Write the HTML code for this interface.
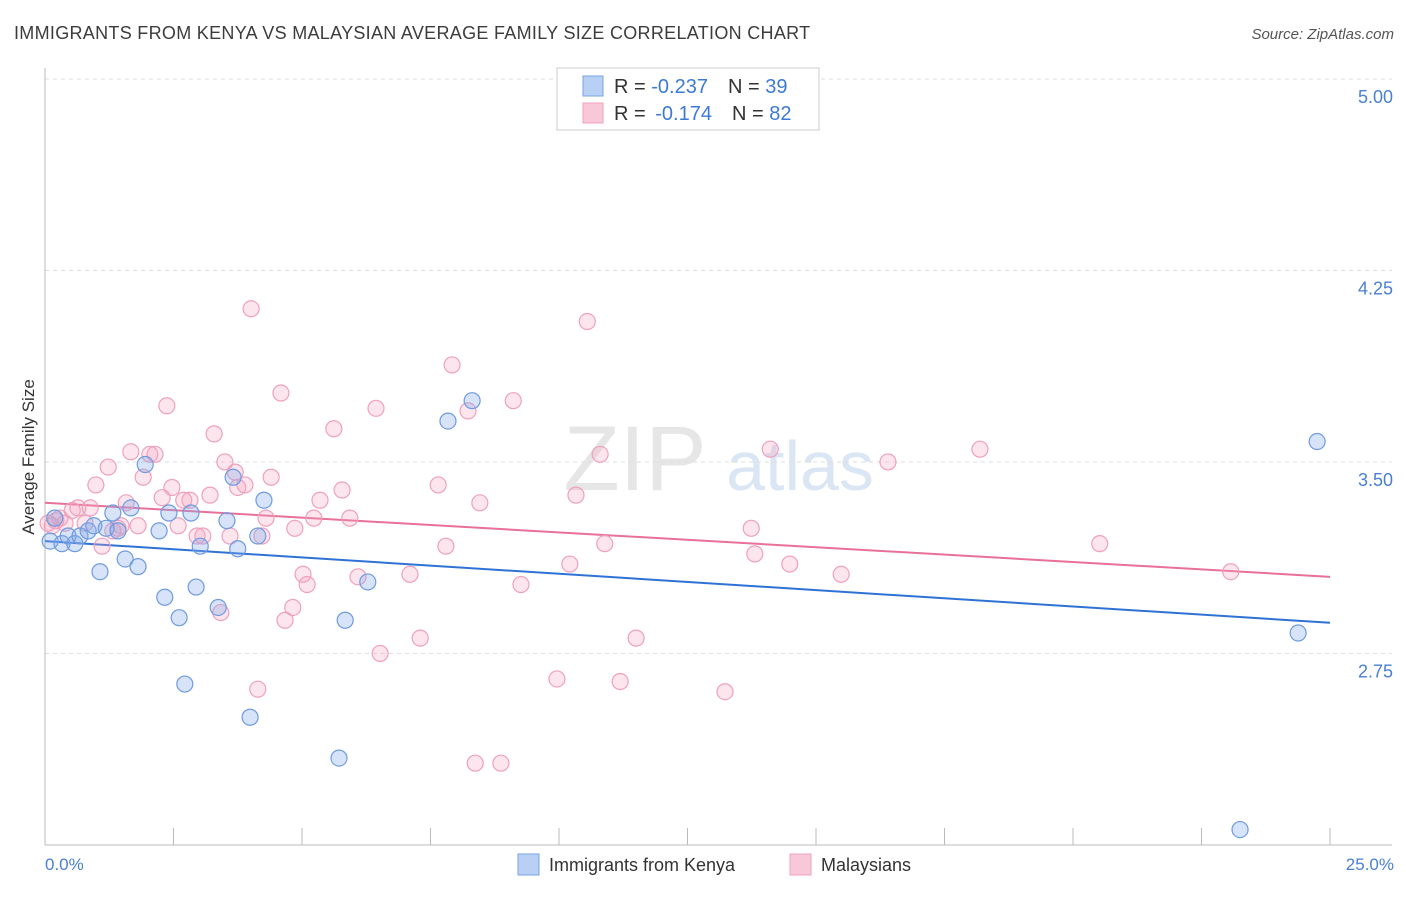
<!DOCTYPE html>
<html><head><meta charset="utf-8"><style>
body{margin:0;background:#fff;font-family:"Liberation Sans",sans-serif;}
svg text{font-family:"Liberation Sans",sans-serif;}
</style></head><body>
<svg id="chart" width="1406" height="892" xmlns="http://www.w3.org/2000/svg">
<text x="14" y="39" font-size="18" letter-spacing="0.3" fill="#3c3c3c">IMMIGRANTS FROM KENYA VS MALAYSIAN AVERAGE FAMILY SIZE CORRELATION CHART</text>
<text x="1394" y="39" font-size="15" fill="#555" font-style="italic" text-anchor="end">Source: ZipAtlas.com</text>
<g>
<text x="635" y="490" font-size="92" fill="#e6e6e6" font-family="Liberation Serif" text-anchor="middle">ZIP</text>
<text x="800" y="490" font-size="70" fill="#dae6f4" text-anchor="middle">atlas</text>
</g>
<g id="grid"></g><g id="axes"></g><g id="lines"></g><g id="pts"></g>
<text transform="translate(34,457) rotate(-90)" font-size="17" fill="#333" text-anchor="middle">Average Family Size</text>
<text x="45" y="870" font-size="17" fill="#4a80d0">0.0%</text>
<text x="1394" y="870" font-size="17" fill="#4a80d0" text-anchor="end">25.0%</text>
<g>
<rect x="557" y="68" width="262" height="62" fill="#fff" stroke="#ccc"/>
<rect x="583" y="76" width="20" height="20" fill="#b8d0f4" stroke="#7aa3e5"/>
<rect x="583" y="103" width="20" height="20" fill="#f9c8d8" stroke="#f0a0bc"/>
<text x="614" y="93" font-size="20" fill="#333">R = <tspan fill="#3d7ad6">-0.237</tspan><tspan dx="20">N = </tspan><tspan fill="#3d7ad6">39</tspan></text>
<text x="614" y="120" font-size="20" fill="#333">R = <tspan dx="4" fill="#3d7ad6">-0.174</tspan><tspan dx="20">N = </tspan><tspan fill="#3d7ad6">82</tspan></text>
</g>
<g>
<rect x="518" y="854" width="21" height="21" fill="#b8d0f4" stroke="#7aa3e5"/>
<text x="549" y="871" font-size="18" fill="#333">Immigrants from Kenya</text>
<rect x="790" y="854" width="21" height="21" fill="#f9c8d8" stroke="#f0a0bc"/>
<text x="821" y="871" font-size="18" fill="#333">Malaysians</text>
</g>
</svg>
<script>
const yTicks=[5.00,4.25,3.50,2.75];
const yTickLabels=["5.00","4.25","3.50","2.75"];
const xTicks=[0,2.5,5,7.5,10,12.5,15,17.5,20,22.5,25];
const kenyaX=[0.10,0.19,0.33,0.45,0.58,0.68,0.84,0.95,1.07,1.19,1.32,1.42,1.56,1.67,1.81,1.95,2.22,2.33,2.41,2.61,2.72,2.84,2.94,3.02,3.37,3.54,3.66,3.75,3.99,4.14,4.26,5.72,5.84,6.28,7.84,8.31,23.25,24.38,24.75];
const kenyaY=[3.19,3.28,3.18,3.21,3.18,3.21,3.23,3.25,3.07,3.24,3.30,3.23,3.12,3.32,3.09,3.49,3.23,2.97,3.30,2.89,2.63,3.30,3.01,3.17,2.93,3.27,3.44,3.16,2.50,3.21,3.35,2.34,2.88,3.03,3.66,3.74,2.06,2.83,3.58];
const malX=[0.06,0.14,0.21,0.29,0.39,0.53,0.64,0.78,0.88,0.99,1.11,1.23,1.32,1.42,1.48,1.58,1.67,1.81,1.91,2.04,2.14,2.28,2.37,2.47,2.59,2.70,2.82,2.96,3.07,3.21,3.29,3.42,3.50,3.60,3.70,3.75,3.89,4.01,4.14,4.22,4.30,4.40,4.59,4.67,4.82,4.86,5.02,5.10,5.23,5.35,5.62,5.78,5.93,6.09,6.44,6.52,7.10,7.30,7.65,7.80,7.92,8.23,8.37,8.46,8.87,9.11,9.26,9.96,10.21,10.33,10.55,10.80,10.89,11.19,11.50,13.23,13.74,13.81,14.11,14.49,15.49,16.40,18.19,20.52,23.07];
const malY=[3.26,3.25,3.27,3.28,3.26,3.31,3.32,3.26,3.32,3.41,3.17,3.48,3.23,3.24,3.25,3.34,3.54,3.25,3.44,3.53,3.53,3.36,3.72,3.40,3.25,3.35,3.35,3.21,3.21,3.37,3.61,2.91,3.50,3.21,3.46,3.40,3.41,4.10,2.61,3.21,3.28,3.44,3.77,2.88,2.93,3.24,3.06,3.02,3.28,3.35,3.63,3.39,3.28,3.05,3.71,2.75,3.06,2.81,3.41,3.17,3.88,3.70,2.32,3.34,2.32,3.74,3.02,2.65,3.10,3.37,4.05,3.53,3.18,2.64,2.81,2.60,3.24,3.14,3.55,3.10,3.06,3.50,3.55,3.18,3.07];
const kenyaTrend=[3.19,2.87];
const malTrend=[3.34,3.05];
const NS="http://www.w3.org/2000/svg";
const xs=v=>45+v/25*1285;
const ys=v=>79+(5-v)*255.3;
function mk(tag,attrs,parent){const e=document.createElementNS(NS,tag);for(const k in attrs)e.setAttribute(k,attrs[k]);document.getElementById(parent).appendChild(e);return e;}
yTicks.forEach((t,i)=>{
 const g=mk('line',{x1:45,x2:1392,y1:ys(t),y2:ys(t),stroke:'#ddd','stroke-dasharray':'4,4'},'grid');
 
 
 const tx=mk('text',{x:1393,y:ys(t)+24,'font-size':18,fill:'#4a80d0','text-anchor':'end'},'grid');
 tx.textContent=yTickLabels[i];
 
 
});
const ya=mk('line',{x1:45,x2:45,y1:68,y2:845,stroke:'#bbb'},'axes');


const xa=mk('line',{x1:45,x2:1392,y1:845,y2:845,stroke:'#bbb'},'axes');


xTicks.forEach(t=>{
 const l=mk('line',{x1:xs(t),x2:xs(t),y1:828,y2:845,stroke:'#bbb'},'axes');
 
 
});
function pts(X,Y,fill,stroke,name){
 X.forEach((x,i)=>{
  const c=mk('circle',{cx:xs(x),cy:ys(Y[i]),r:8,fill:fill,stroke:stroke,'stroke-width':1.2},'pts');
  
  
 });
}
pts(malX,malY,'rgba(244,160,190,0.28)','#f0a0bc','malaysian-point');
pts(kenyaX,kenyaY,'rgba(130,170,235,0.33)','#6f9be0','kenya-point');
const tk=mk('line',{x1:xs(0),y1:ys(kenyaTrend[0]),x2:xs(25),y2:ys(kenyaTrend[1]),stroke:'#2f72d6','stroke-width':2},'lines');


const tm=mk('line',{x1:xs(0),y1:ys(malTrend[0]),x2:xs(25),y2:ys(malTrend[1]),stroke:'#e8709a','stroke-width':2},'lines');


</script>
</body></html>
